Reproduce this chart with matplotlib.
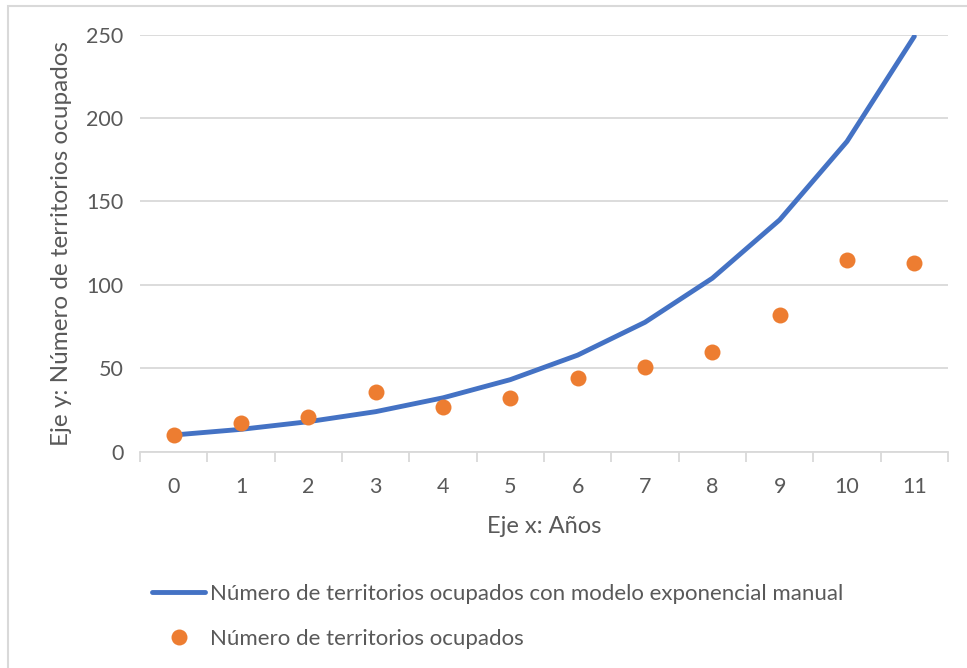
import numpy as np
import matplotlib.pyplot as plt
from matplotlib.patches import Rectangle

YEARS = [0, 1, 2, 3, 4, 5, 6, 7, 8, 9, 10, 11]
MODEL = [10, 13.4, 18, 24, 32.3, 43.2, 57.9, 77.6, 104, 139, 186, 249]
OBSERVED = [10, 17, 21, 36, 27, 32, 44, 51, 60, 82, 115, 113]
Y_TICKS = [0, 50, 100, 150, 200, 250]

LABEL_MODEL = 'Número de territorios ocupados con modelo exponencial manual'
LABEL_OBS = 'Número de territorios ocupados'

BLUE = '#4472C4'
ORANGE = '#ED7D31'
GREY = '#D9D9D9'
TEXT = '#595959'


def main():
    plt.rcParams['font.family'] = ['Lato', 'DejaVu Sans']
    fig = plt.figure(figsize=(9.67, 6.68), dpi=100)

    # outer chart border
    fig.patches.append(Rectangle((8 / 967, -0.05), 1.0, 1 - 6 / 668 + 0.05,
                                 transform=fig.transFigure, fill=False,
                                 edgecolor=GREY, linewidth=1.5))

    ax = fig.add_axes([140 / 967, 1 - 451.7 / 668, 808 / 967, 417 / 668])
    x = np.arange(len(YEARS))

    ax.plot(x, MODEL, color=BLUE, linewidth=3.5, solid_capstyle='round',
            zorder=3, label=LABEL_MODEL)
    ax.plot(x, OBSERVED, 'o', color=ORANGE, markersize=11.5,
            markeredgewidth=0, zorder=4, label=LABEL_OBS)

    ax.set_xlim(-0.5, len(YEARS) - 0.5)
    ax.set_ylim(0, 250)
    ax.set_yticks(Y_TICKS)
    ax.set_xticks(x)
    ax.set_xticklabels([str(v) for v in YEARS])
    ax.set_xticks(np.arange(-0.5, len(YEARS)), minor=True)

    ax.grid(axis='y', color=GREY, linewidth=1.3)
    ax.set_axisbelow(True)
    for side in ['top', 'right', 'left']:
        ax.spines[side].set_visible(False)
    ax.spines['bottom'].set_color(GREY)
    ax.spines['bottom'].set_linewidth(1.3)

    ax.tick_params(axis='y', length=0, pad=12, labelsize=15.5, labelcolor=TEXT)
    ax.tick_params(axis='x', which='major', length=0, pad=18,
                   labelsize=15.5, labelcolor=TEXT)
    ax.tick_params(axis='x', which='minor', length=7, width=1.3, color=GREY)

    ax.set_xlabel('Eje x: Años', fontsize=17, color=TEXT, labelpad=14)
    ax.set_ylabel('Eje y: Número de territorios ocupados', fontsize=17.5,
                  color=TEXT, labelpad=10)

    leg = ax.legend(loc='upper left', bbox_to_anchor=(141 / 967, 1 - 573 / 668),
                    bbox_transform=fig.transFigure, frameon=False,
                    fontsize=16, labelspacing=1.1, handlelength=2.4,
                    handletextpad=0.2, borderpad=0)
    for text in leg.get_texts():
        text.set_color(TEXT)

    fig.savefig('out.png', dpi=100)


if __name__ == '__main__':
    main()
